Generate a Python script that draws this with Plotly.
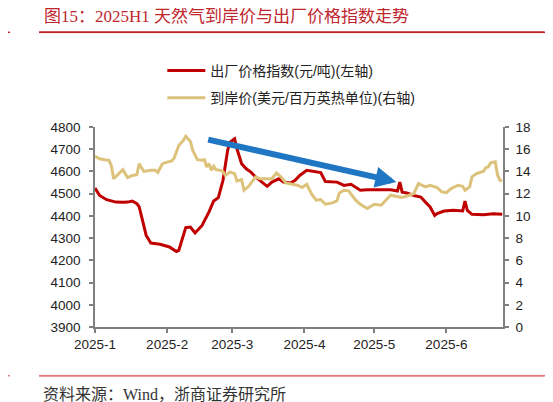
import base64
import struct
import zlib
import plotly.graph_objects as go

# 出厂价格指数 (元/吨), 左轴
red_dates = ["2025-01-01", "2025-01-03", "2025-01-06", "2025-01-10", "2025-01-13", "2025-01-15",
             "2025-01-17", "2025-01-19", "2025-01-20", "2025-01-21", "2025-01-22", "2025-01-23",
             "2025-01-25", "2025-01-29", "2025-02-02", "2025-02-05", "2025-02-06", "2025-02-08",
             "2025-02-09", "2025-02-11", "2025-02-13", "2025-02-16", "2025-02-19", "2025-02-21",
             "2025-02-23", "2025-02-25", "2025-02-27", "2025-02-28", "2025-03-02", "2025-03-03",
             "2025-03-05", "2025-03-07", "2025-03-09", "2025-03-11", "2025-03-14", "2025-03-16",
             "2025-03-18", "2025-03-21", "2025-03-23", "2025-03-26", "2025-03-28", "2025-03-30",
             "2025-04-02", "2025-04-08", "2025-04-10", "2025-04-15", "2025-04-18", "2025-04-21",
             "2025-04-25", "2025-04-28", "2025-05-03", "2025-05-08", "2025-05-11", "2025-05-12",
             "2025-05-13", "2025-05-15", "2025-05-18", "2025-05-21", "2025-05-23", "2025-05-25",
             "2025-05-27", "2025-05-28", "2025-05-31", "2025-06-04", "2025-06-08", "2025-06-09",
             "2025-06-10", "2025-06-12", "2025-06-17", "2025-06-21", "2025-06-25"]
red_values = [4525, 4492, 4473, 4462, 4461, 4462,
              4467, 4455, 4440, 4395, 4350, 4312,
              4278, 4272, 4260, 4240, 4245, 4308,
              4347, 4350, 4323, 4357, 4418, 4467,
              4482, 4560, 4695, 4732, 4747, 4702,
              4635, 4612, 4597, 4575, 4552, 4533,
              4552, 4567, 4552, 4548, 4560, 4582,
              4605, 4595, 4555, 4552, 4537, 4542,
              4515, 4518, 4518, 4518, 4512, 4552,
              4507, 4503, 4492, 4485, 4462, 4440,
              4402, 4410, 4422, 4425, 4422, 4467,
              4425, 4407, 4405, 4410, 4407]

# 到岸价 (美元/百万英热单位), 右轴
lng_dates = ["2025-01-01", "2025-01-03", "2025-01-05", "2025-01-07", "2025-01-08", "2025-01-09",
             "2025-01-13", "2025-01-15", "2025-01-17", "2025-01-19", "2025-01-20", "2025-01-22",
             "2025-01-25", "2025-01-27", "2025-01-28", "2025-01-30", "2025-02-01", "2025-02-03",
             "2025-02-04", "2025-02-06", "2025-02-08", "2025-02-09", "2025-02-11", "2025-02-12",
             "2025-02-14", "2025-02-16", "2025-02-17", "2025-02-18", "2025-02-19", "2025-02-20",
             "2025-02-21", "2025-02-22", "2025-02-24", "2025-02-25", "2025-02-26", "2025-02-28",
             "2025-03-02", "2025-03-03", "2025-03-05", "2025-03-06", "2025-03-08", "2025-03-11",
             "2025-03-13", "2025-03-16", "2025-03-18", "2025-03-20", "2025-03-22", "2025-03-24",
             "2025-03-29", "2025-03-31", "2025-04-02", "2025-04-04", "2025-04-06", "2025-04-08",
             "2025-04-10", "2025-04-13", "2025-04-15", "2025-04-16", "2025-04-18", "2025-04-20",
             "2025-04-23", "2025-04-25", "2025-04-28", "2025-05-01", "2025-05-04", "2025-05-08",
             "2025-05-10", "2025-05-13", "2025-05-16", "2025-05-18", "2025-05-20", "2025-05-23",
             "2025-05-25", "2025-05-28", "2025-05-30", "2025-06-01", "2025-06-03", "2025-06-06",
             "2025-06-08", "2025-06-09", "2025-06-11", "2025-06-12", "2025-06-14", "2025-06-17",
             "2025-06-18", "2025-06-19", "2025-06-20", "2025-06-22", "2025-06-23", "2025-06-24",
             "2025-06-25"]
lng_values = [15.36, 15.14, 15.06, 15.0, 14.54, 13.34,
              14.16, 13.44, 13.64, 13.7, 14.7, 14.0,
              14.1, 14.1, 13.92, 14.7, 14.84, 14.94,
              15.2, 16.34, 16.8, 17.16, 16.7, 15.9,
              15.06, 15.0, 15.06, 14.4, 14.7, 14.1,
              14.46, 14.16, 14.1, 14.0, 13.64, 13.94,
              13.8, 13.14, 13.26, 12.3, 12.66, 13.5,
              13.34, 13.3, 13.34, 13.86, 13.5, 12.97,
              12.76, 12.55, 12.85, 12.0, 11.41, 11.47,
              11.05, 11.17, 11.35, 12.07, 12.31, 12.25,
              11.41, 11.05, 10.66, 11.05, 10.96, 11.86,
              11.77, 11.65, 11.86, 12.01, 12.91, 12.61,
              12.76, 12.55, 12.16, 12.10, 12.46, 12.76,
              12.67, 12.31, 12.61, 13.51, 13.81, 14.02,
              14.35, 14.40, 14.77, 14.86, 13.66, 13.21,
              13.15]

month_ticks = ["2025-01-01", "2025-02-01", "2025-03-01", "2025-04-01", "2025-05-01", "2025-06-01"]
month_labels = ["2025-1", "2025-2", "2025-3", "2025-4", "2025-5", "2025-6"]

# trend arrow (start -> tip), left-axis units
arrow_start = ("2025-02-18", 4745)
arrow_tip = ("2025-05-10 12:00", 4553)

RED = "#c00000"
TAN = "#dcc27a"
BLUE = "#1f77c4"
AXIS = "#808080"
sans = "Liberation Sans, Arial, Noto Sans CJK SC"
serif = "Liberation Serif, Noto Sans CJK SC"


def pixel_png(r, g, b):
    # 1x1 png used as a stretched rule
    def chunk(tag, data):
        return (struct.pack(">I", len(data)) + tag + data
                + struct.pack(">I", zlib.crc32(tag + data) & 0xffffffff))
    raw = b"\x00" + bytes([r, g, b])
    png = (b"\x89PNG\r\n\x1a\n" + chunk(b"IHDR", struct.pack(">IIBBBBB", 1, 1, 8, 2, 0, 0, 0))
           + chunk(b"IDAT", zlib.compress(raw)) + chunk(b"IEND", b""))
    return "data:image/png;base64," + base64.b64encode(png).decode()


fig = go.Figure()
fig.add_trace(go.Scatter(x=red_dates, y=red_values, mode="lines", name="出厂价格指数(元/吨)(左轴)",
                         line=dict(color=RED, width=3), legendgroup="a"))
fig.add_trace(go.Scatter(x=lng_dates, y=lng_values, mode="lines", name="到岸价(美元/百万英热单位)(右轴)",
                         line=dict(color=TAN, width=3), yaxis="y2", legendgroup="b"))

fig.add_annotation(x=arrow_tip[0], y=arrow_tip[1], ax=arrow_start[0], ay=arrow_start[1],
                   xref="x", yref="y", axref="x", ayref="y", text="", showarrow=True,
                   arrowhead=2, arrowsize=0.7, arrowwidth=6, arrowcolor=BLUE)

# title, source and the red rules (page body adds an 8px offset, so the figure is 8px smaller)
fig.add_annotation(x=-0.13, y=1.555, xref="paper", yref="paper", xanchor="left", yanchor="middle",
                   text="图15：2025H1 天然气到岸价与出厂价格指数走势", showarrow=False,
                   font=dict(family=serif, size=17, color="#c0272d"))
fig.add_annotation(x=-0.132, y=-0.3365, xref="paper", yref="paper", xanchor="left", yanchor="middle",
                   text="资料来源：Wind，浙商证券研究所", showarrow=False,
                   font=dict(family=serif, size=16, color="#333333"))
for yy, col, rgb in [(1.4735, "#c0272d", (192, 39, 45)), (-0.2435, "#e07b7b", (224, 123, 123))]:
    fig.add_shape(type="line", xref="paper", yref="paper", x0=-0.137, x1=1.10, y0=yy, y1=yy,
                  layer="above", line=dict(color=col, width=1.5))
    fig.add_shape(type="line", xref="paper", yref="paper", x0=-0.2204, x1=-0.2082, y0=yy, y1=yy,
                  layer="above", line=dict(color=col, width=1.5))
    fig.add_layout_image(source=pixel_png(*rgb), xref="paper", yref="paper", x=-0.137, y=yy + 0.004,
                         sizex=1.24, sizey=0.008, sizing="stretch", xanchor="left", yanchor="top",
                         layer="above")

fig.update_layout(
    width=545, height=394,
    margin=dict(l=87, r=50, t=119, b=75),
    paper_bgcolor="white", plot_bgcolor="white",
    font=dict(family=sans, size=13.5, color="#222222"),
    showlegend=True,
    legend=dict(x=0.165, y=1.36, xanchor="left", yanchor="top", itemwidth=38,
                tracegroupgap=6, font=dict(family=sans, size=14, color="#222222"),
                bgcolor="rgba(0,0,0,0)"),
    xaxis=dict(type="date", range=["2025-01-01", "2025-06-25 08:00"],
               tickvals=month_ticks, ticktext=month_labels,
               showgrid=False, zeroline=False, showline=True, linecolor=AXIS, linewidth=1.5,
               ticks="outside", ticklen=4, tickcolor=AXIS, tickwidth=1.5),
    yaxis=dict(range=[3900, 4800], dtick=100, tick0=3900, showgrid=False, zeroline=False,
               showline=True, linecolor=AXIS, linewidth=1.5,
               ticks="outside", ticklen=4, tickcolor=AXIS, tickwidth=1.5, ticklabelstandoff=6),
    yaxis2=dict(range=[0, 18], dtick=2, tick0=0, overlaying="y", side="right",
                showgrid=False, zeroline=False, showline=True, linecolor=AXIS, linewidth=1.5,
                ticks="outside", ticklen=4, tickcolor=AXIS, tickwidth=1.5, ticklabelstandoff=4),
)

fig.write_html("out.html")
